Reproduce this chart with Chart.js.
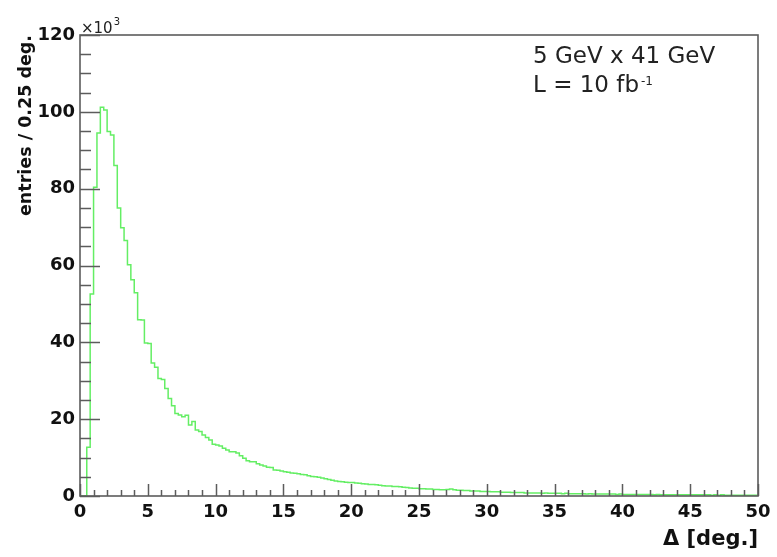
<!DOCTYPE html>
<html>
<head>
<meta charset="utf-8">
<script src="https://cdn.jsdelivr.net/npm/chart.js@4.4.0/dist/chart.umd.min.js"></script>
<style>
    html, body { margin: 0; padding: 0; background: #fff; }
</style>
</head>
<body>
<canvas id="histo" width="777" height="557"></canvas>
<script>
// ---- Datos del histograma ---------------------------------------------
// bins de 0.25 grados entre 0 y 50, contenido en unidades de 10^3
const binWidth = 0.25;
const xMin = 0;
const xMax = 50;
const yMax = 120;

const entries = [
    0, 0, 12.7, 52.6, 80.4, 94.5, 101.2, 100.5, 94.9, 94.0,
    86.0, 75.0, 69.8, 66.5, 60.2, 56.3, 52.9, 45.9, 45.8, 39.8,
    39.7, 34.6, 33.5, 30.6, 30.3, 28.0, 25.4, 23.5, 21.5, 21.1,
    20.6, 21.0, 18.5, 19.4, 17.2, 16.8, 15.9, 15.2, 14.6, 13.5,
    13.3, 13.0, 12.4, 12.0, 11.5, 11.5, 11.2, 10.5, 9.8, 9.2,
    8.9, 8.9, 8.4, 8.1, 7.8, 7.5, 7.4, 6.8, 6.7, 6.5,
    6.3, 6.2, 6.0, 5.9,   5.8, 5.6, 5.5, 5.3,   5.1, 5.0, 4.9, 4.7,
    4.5, 4.3, 4.1, 3.9,   3.8, 3.7, 3.6, 3.5,   3.5, 3.4, 3.3, 3.2,
    3.1, 3.0, 3.0, 2.9,   2.8, 2.7, 2.6, 2.6,   2.5, 2.5, 2.4, 2.3,
    2.2, 2.1, 2.0, 2.0,   1.9, 1.9, 1.8, 1.8,   1.7, 1.7, 1.6, 1.6,
    1.7, 1.8, 1.6, 1.5,   1.5, 1.4, 1.4, 1.3,   1.3, 1.3, 1.2, 1.2,
    1.2, 1.1, 1.1, 1.1,   1.0, 1.0, 1.0, 0.9,   0.9, 0.9, 0.9, 0.8,
    0.8, 0.8, 0.8, 0.8,   0.7, 0.8, 0.7, 0.7,   0.7, 0.7, 0.6, 0.7,
    0.6, 0.6, 0.6, 0.6,   0.6, 0.5, 0.6, 0.5,   0.5, 0.5, 0.5, 0.5,
    0.5, 0.5, 0.4, 0.5,   0.4, 0.4, 0.4, 0.4,   0.4, 0.4, 0.4, 0.4,
    0.4, 0.3, 0.4, 0.3,   0.3, 0.3, 0.3, 0.3,   0.3, 0.3, 0.3, 0.3,
    0.3, 0.3, 0.3, 0.3,   0.3, 0.3, 0.2, 0.3,   0.2, 0.3, 0.2, 0.2,
    0.2, 0.2, 0.2, 0.2,   0.2, 0.2, 0.2, 0.2
];

const xTickStep = 5;
const xMinorStep = 1;
const yTickStep = 20;
const yMinorStep = 5;

const xTitle = 'Δ [deg.]';
const yTitle = 'entries / 0.25 deg.';
const beamLabel = '5 GeV x 41 GeV';
const lumiLabel = 'L = 10 fb';
const lumiExponent = '-1';

// un punto en el borde inferior de cada bin + cierre en xMax
const points = entries.map((v, i) => ({ x: xMin + i * binWidth, y: v }));
points.push({ x: xMax, y: entries[entries.length - 1] });

// ---- Marco, ticks hacia dentro y textos estilo ROOT --------------------
const rootFrame = {
    id: 'rootFrame',
    afterDraw(chart) {
        const { ctx, chartArea: a, scales: { x, y } } = chart;
        ctx.save();

        // ticks menores y mayores (hacia dentro del marco)
        ctx.strokeStyle = '#5c5c5c';
        ctx.lineWidth = 1.5;
        ctx.beginPath();
        for (let v = xMin; v <= xMax + 1e-9; v += xMinorStep) {
            const px = Math.round(x.getPixelForValue(v)) + 0.5;
            const len = (v % xTickStep === 0) ? 12 : 6;
            ctx.moveTo(px, a.bottom);
            ctx.lineTo(px, a.bottom - len);
        }
        for (let v = 0; v <= yMax + 1e-9; v += yMinorStep) {
            const py = Math.round(y.getPixelForValue(v)) + 0.5;
            const len = (v % yTickStep === 0) ? 20 : 11;
            ctx.moveTo(a.left, py);
            ctx.lineTo(a.left + len, py);
        }
        ctx.stroke();

        // marco
        ctx.lineWidth = 1.6;
        ctx.strokeRect(a.left, a.top, a.right - a.left, a.bottom - a.top);

        // factor x10^3
        ctx.fillStyle = '#222';
        ctx.textBaseline = 'alphabetic';
        ctx.textAlign = 'left';
        ctx.font = '15px "DejaVu Sans"';
        ctx.fillText('×10', a.left + 1, a.top - 2);
        const w10 = ctx.measureText('×10').width;
        ctx.font = '10px "DejaVu Sans"';
        ctx.fillText('3', a.left + 2 + w10, a.top - 10);

        // leyenda
        ctx.font = '23px "DejaVu Sans"';
        ctx.fillText(beamLabel, 533, 63);
        ctx.fillText(lumiLabel, 533, 92);
        const wl = ctx.measureText(lumiLabel).width;
        ctx.font = '12px "DejaVu Sans"';
        ctx.fillText(lumiExponent, 533 + wl + 2, 85);

        ctx.restore();
    }
};

const tickFont = { family: 'DejaVu Sans', weight: 'bold', size: 18 };

new Chart(document.getElementById('histo').getContext('2d'), {
    type: 'line',
    data: {
        datasets: [{
            data: points,
            stepped: 'before',
            borderColor: 'rgb(100, 238, 100)',
            borderWidth: 1.5,
            pointRadius: 0,
            fill: false
        }]
    },
    options: {
        responsive: false,
        animation: false,
        layout: { padding: { left: 0, top: 35, right: 19, bottom: 0 } },
        plugins: { legend: { display: false }, tooltip: { enabled: false } },
        scales: {
            x: {
                type: 'linear',
                min: xMin,
                max: xMax,
                afterFit: s => { s.height = 61; },
                grid: { display: false, drawTicks: false },
                border: { display: false },
                ticks: {
                    stepSize: xTickStep,
                    autoSkip: false,
                    maxRotation: 0,
                    padding: 6,
                    color: '#111',
                    font: tickFont
                },
                title: {
                    display: true,
                    text: xTitle,
                    align: 'end',
                    color: '#111',
                    padding: { top: 0, bottom: 5 },
                    font: { family: 'DejaVu Sans', weight: 'bold', size: 21 }
                }
            },
            y: {
                min: 0,
                max: yMax,
                afterFit: s => { s.width = 80; },
                grid: { display: false, drawTicks: false },
                border: { display: false },
                ticks: {
                    stepSize: yTickStep,
                    padding: 5,
                    color: '#111',
                    font: tickFont
                },
                title: {
                    display: true,
                    text: yTitle,
                    align: 'end',
                    color: '#111',
                    padding: { top: 16, bottom: 0 },
                    font: { family: 'DejaVu Sans', weight: 'bold', size: 17.5 }
                }
            }
        }
    },
    plugins: [rootFrame]
});
</script>
</body>
</html>
